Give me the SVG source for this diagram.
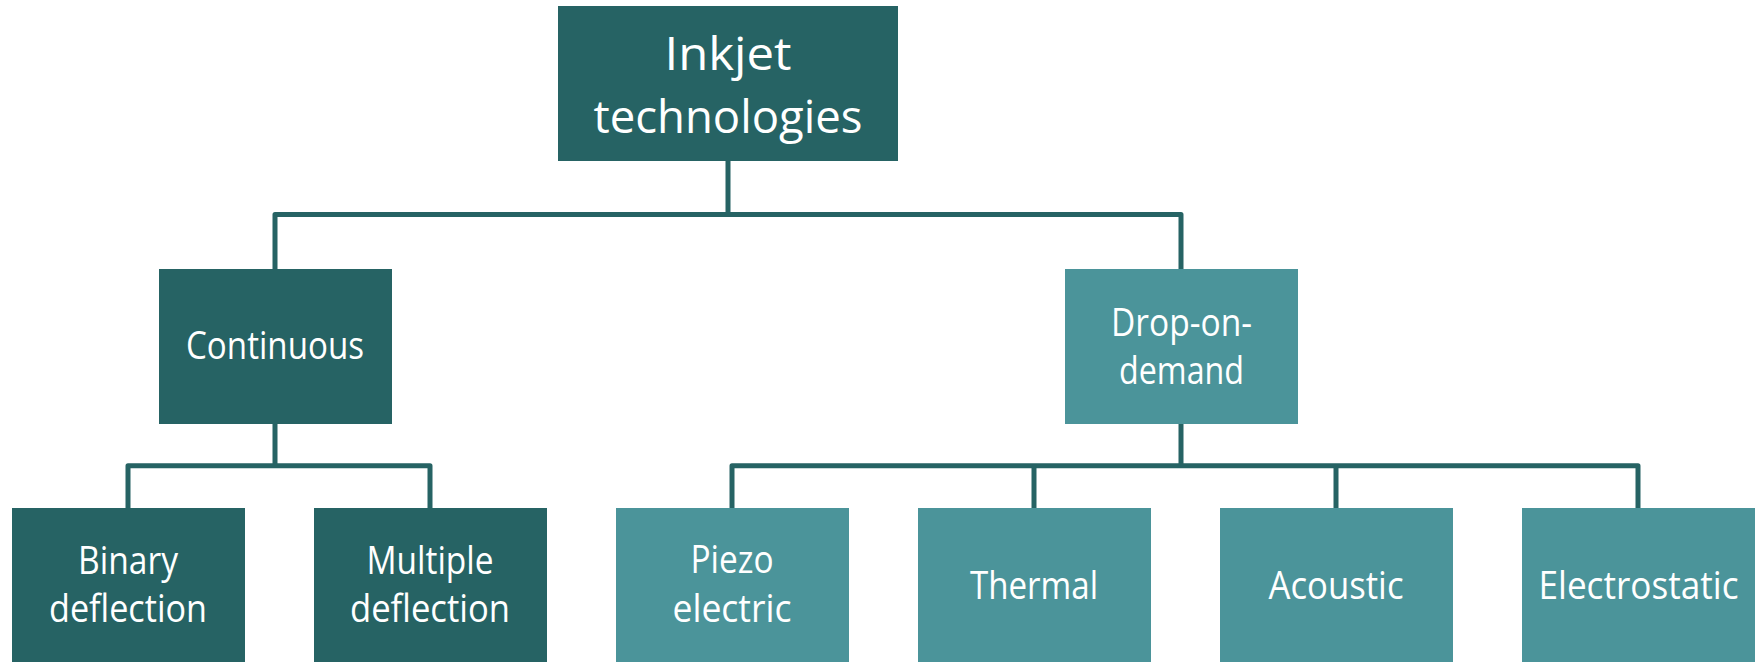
<svg xmlns="http://www.w3.org/2000/svg" width="1757" height="662" viewBox="0 0 1757 662">
<style>
.dark{fill:#266364}
.light{fill:#4b949a}
.t{fill:#ffffff;font-family:"Open Sans","Noto Sans",sans-serif;font-size:38px;text-anchor:middle}
.big{font-size:46px}
.conn{fill:none;stroke:#266364;stroke-width:5;stroke-linejoin:round;stroke-linecap:butt}
</style>
<rect width="1757" height="662" fill="#ffffff"/>
<g id="connectors">
<path class="conn" d="M728,160 V214.5 M275,269 V214.5 H1181 V269"/>
<path class="conn" d="M275,423 V465.7 M128,508 V465.7 H430 V508"/>
<path class="conn" d="M1181,423 V465.7 M732,508 V465.7 H1638 V508 M1034,465.7 V508 M1336,465.7 V508"/>
</g>
<g id="root">
<rect class="dark" x="558" y="6" width="340" height="155"/>
<text class="t big" x="728" y="70" textLength="127" lengthAdjust="spacingAndGlyphs">Inkjet</text>
<text class="t big" x="728" y="133" textLength="269" lengthAdjust="spacingAndGlyphs">technologies</text>
</g>
<g id="continuous">
<rect class="dark" x="159" y="269" width="233" height="155"/>
<text class="t" x="275" y="359" textLength="178" lengthAdjust="spacingAndGlyphs">Continuous</text>
</g>
<g id="dod">
<rect class="light" x="1065" y="269" width="233" height="155"/>
<text class="t" x="1181.5" y="336" textLength="141" lengthAdjust="spacingAndGlyphs">Drop-on-</text>
<text class="t" x="1181.5" y="384" textLength="125" lengthAdjust="spacingAndGlyphs">demand</text>
</g>
<g id="binary">
<rect class="dark" x="12" y="508" width="233" height="154"/>
<text class="t" x="128" y="574" textLength="100" lengthAdjust="spacingAndGlyphs">Binary</text>
<text class="t" x="128" y="622" textLength="158" lengthAdjust="spacingAndGlyphs">deflection</text>
</g>
<g id="multiple">
<rect class="dark" x="314" y="508" width="233" height="154"/>
<text class="t" x="430" y="574" textLength="127" lengthAdjust="spacingAndGlyphs">Multiple</text>
<text class="t" x="430" y="622" textLength="160" lengthAdjust="spacingAndGlyphs">deflection</text>
</g>
<g id="piezo">
<rect class="light" x="616" y="508" width="233" height="154"/>
<text class="t" x="732" y="573" textLength="83" lengthAdjust="spacingAndGlyphs">Piezo</text>
<text class="t" x="732" y="622" textLength="119" lengthAdjust="spacingAndGlyphs">electric</text>
</g>
<g id="thermal">
<rect class="light" x="918" y="508" width="233" height="154"/>
<text class="t" x="1034" y="599" textLength="128" lengthAdjust="spacingAndGlyphs">Thermal</text>
</g>
<g id="acoustic">
<rect class="light" x="1220" y="508" width="233" height="154"/>
<text class="t" x="1336" y="599" textLength="135" lengthAdjust="spacingAndGlyphs">Acoustic</text>
</g>
<g id="electrostatic">
<rect class="light" x="1522" y="508" width="233" height="154"/>
<text class="t" x="1638.5" y="599" textLength="200" lengthAdjust="spacingAndGlyphs">Electrostatic</text>
</g>
</svg>
